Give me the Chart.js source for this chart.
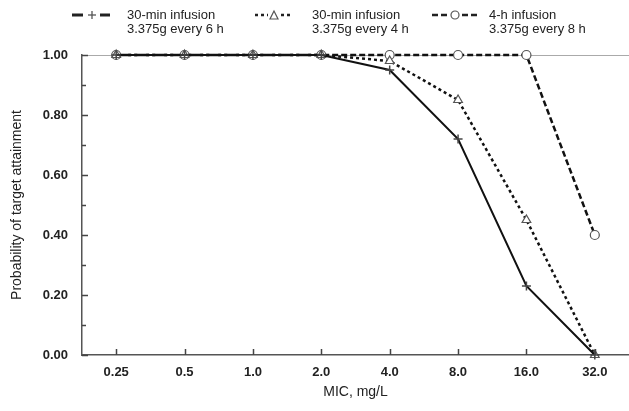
<!DOCTYPE html>
<html><head><meta charset="utf-8">
<script src="https://cdn.jsdelivr.net/npm/chart.js@4/dist/chart.umd.min.js"></script>
<style>
html,body{margin:0;padding:0;background:#fff;}
#wrap{position:relative;width:629px;height:411px;}
#c{position:absolute;left:0;top:0;}
#legend{position:absolute;left:0;top:0;width:629px;height:45px;font-family:"Liberation Sans",Arial,sans-serif;font-size:13px;color:#222;}
.sample{position:absolute;}
.txt{position:absolute;line-height:14px;white-space:nowrap;}
</style></head>
<body><div id="wrap"><canvas id="c" width="629" height="411"></canvas><div id="legend"></div></div>
<script>
const categories = ['0.25','0.5','1.0','2.0','4.0','8.0','16.0','32.0'];
const q6h30min = [1.00, 1.00, 1.00, 1.00, 0.95, 0.72, 0.23, 0.00];
const q4h30min = [1.00, 1.00, 1.00, 1.00, 0.98, 0.85, 0.45, 0.00];
const q8h4h    = [1.00, 1.00, 1.00, 1.00, 1.00, 1.00, 1.00, 0.40];
const yTicks = [0.00, 0.20, 0.40, 0.60, 0.80, 1.00];
const legendLine1 = ['30-min infusion', '30-min infusion', '4-h infusion'];
const legendLine2 = ['3.375g every 6 h', '3.375g every 4 h', '3.375g every 8 h'];
const xTitle = 'MIC, mg/L';
const yTitle = 'Probability of target attainment';

const FONT = '"Liberation Sans", Arial, Helvetica, sans-serif';

// HTML legend
const legendDiv = document.getElementById('legend');
const legendSamples = [
  `<svg width="40" height="12"><line x1="0" y1="6" x2="11" y2="6" stroke="#222" stroke-width="3"/><line x1="16" y1="6" x2="24" y2="6" stroke="#555" stroke-width="1.3"/><line x1="20" y1="2" x2="20" y2="10" stroke="#555" stroke-width="1.3"/><line x1="28" y1="6" x2="38" y2="6" stroke="#222" stroke-width="3"/></svg>`,
  `<svg width="40" height="12"><line x1="0" y1="6" x2="13" y2="6" stroke="#222" stroke-width="2.5" stroke-dasharray="3,3"/><polygon points="19,2 15,10 23,10" fill="#fff" stroke="#555" stroke-width="1.2"/><line x1="26" y1="6" x2="38" y2="6" stroke="#222" stroke-width="2.5" stroke-dasharray="3,3"/></svg>`,
  `<svg width="48" height="12"><line x1="0" y1="6" x2="16" y2="6" stroke="#222" stroke-width="2.5" stroke-dasharray="6,3"/><circle cx="23" cy="6" r="4" fill="#fff" stroke="#555" stroke-width="1.2"/><line x1="30" y1="6" x2="46" y2="6" stroke="#222" stroke-width="2.5" stroke-dasharray="6,3"/></svg>`
];
const sampleX = [72, 255, 432];
const textX = [127, 312, 489];
for (let i = 0; i < 3; i++) {
  const s = document.createElement('div');
  s.className = 'sample';
  s.style.left = sampleX[i] + 'px';
  s.style.top = '9px';
  s.innerHTML = legendSamples[i];
  legendDiv.appendChild(s);
  const t = document.createElement('div');
  t.className = 'txt';
  t.style.left = textX[i] + 'px';
  t.style.top = '8px';
  t.innerHTML = legendLine1[i] + '<br>' + legendLine2[i];
  legendDiv.appendChild(t);
}

// inward tick marks plugin
const inwardTicks = {
  id: 'inwardTicks',
  afterDraw(chart) {
    const ctx = chart.ctx;
    const xs = chart.scales.x, ys = chart.scales.y;
    ctx.save();
    ctx.strokeStyle = '#444';
    ctx.lineWidth = 1.5;
    ctx.beginPath();
    for (let i = 0; i < categories.length; i++) {
      const px = Math.round(xs.getPixelForTick(i)) + 0.5;
      ctx.moveTo(px, ys.bottom);
      ctx.lineTo(px, ys.bottom - 6);
    }
    for (let i = 0; i < yTicks.length; i++) {
      const py = Math.round(ys.getPixelForValue(yTicks[i])) + 0.5;
      ctx.moveTo(xs.left, py);
      ctx.lineTo(xs.left + 6, py);
      if (i < yTicks.length - 1) {
        const pm = Math.round(ys.getPixelForValue((yTicks[i] + yTicks[i + 1]) / 2)) + 0.5;
        ctx.moveTo(xs.left, pm);
        ctx.lineTo(xs.left + 4, pm);
      }
    }
    ctx.stroke();
    ctx.restore();
  }
};

new Chart(document.getElementById('c'), {
  type: 'line',
  data: {
    labels: categories,
    datasets: [
      {
        label: legendLine1[0] + ' ' + legendLine2[0],
        data: q6h30min,
        borderColor: '#111', borderWidth: 2,
        pointStyle: 'cross', pointRadius: 4.5, pointBorderColor: '#444', pointBorderWidth: 1.5,
        fill: false, tension: 0, clip: false
      },
      {
        label: legendLine1[1] + ' ' + legendLine2[1],
        data: q4h30min,
        borderColor: '#111', borderWidth: 2.5, borderDash: [3, 3],
        pointStyle: 'triangle', pointRadius: 5, pointBackgroundColor: '#fff', pointBorderColor: '#555', pointBorderWidth: 1.2,
        fill: false, tension: 0, clip: false
      },
      {
        label: legendLine1[2] + ' ' + legendLine2[2],
        data: q8h4h,
        borderColor: '#111', borderWidth: 2.5, borderDash: [6, 3],
        pointStyle: 'circle', pointRadius: 4.5, pointBackgroundColor: '#fff', pointBorderColor: '#555', pointBorderWidth: 1.2,
        fill: false, tension: 0, clip: false
      }
    ]
  },
  options: {
    responsive: false,
    animation: false,
    devicePixelRatio: 1,
    layout: { autoPadding: false, padding: { top: 55, right: 0, left: 0, bottom: 0 } },
    plugins: { legend: { display: false }, tooltip: { enabled: false } },
    scales: {
      x: {
        type: 'category',
        offset: true,
        afterFit(scale) { scale.height = 56; scale.paddingLeft = 0; scale.paddingRight = 0; },
        grid: { display: true, drawOnChartArea: false, drawTicks: false },
        border: { display: true, color: '#555', width: 1.5 },
        ticks: { color: '#222', font: { family: FONT, size: 13, weight: 'bold' }, padding: 10, maxRotation: 0 },
        title: { display: true, text: xTitle, color: '#222', font: { family: FONT, size: 14 }, padding: { top: 4, bottom: 10 } }
      },
      y: {
        min: 0, max: 1,
        afterFit(scale) { scale.width = 82; },
        afterBuildTicks(scale) { scale.ticks = yTicks.map(v => ({ value: v })); },
        grid: {
          drawTicks: false,
          color: ctx => (ctx.tick && ctx.tick.value === 1) ? '#aaa' : 'rgba(0,0,0,0)',
          lineWidth: 1
        },
        border: { display: true, color: '#555', width: 1.5 },
        ticks: {
          color: '#222', font: { family: FONT, size: 13, weight: 'bold' }, padding: 14,
          callback: v => Number(v).toFixed(2)
        },
        title: { display: true, text: yTitle, color: '#222', font: { family: FONT, size: 14 }, padding: { top: 9, bottom: 0 } }
      }
    }
  },
  plugins: [inwardTicks]
});
</script>
</body></html>
